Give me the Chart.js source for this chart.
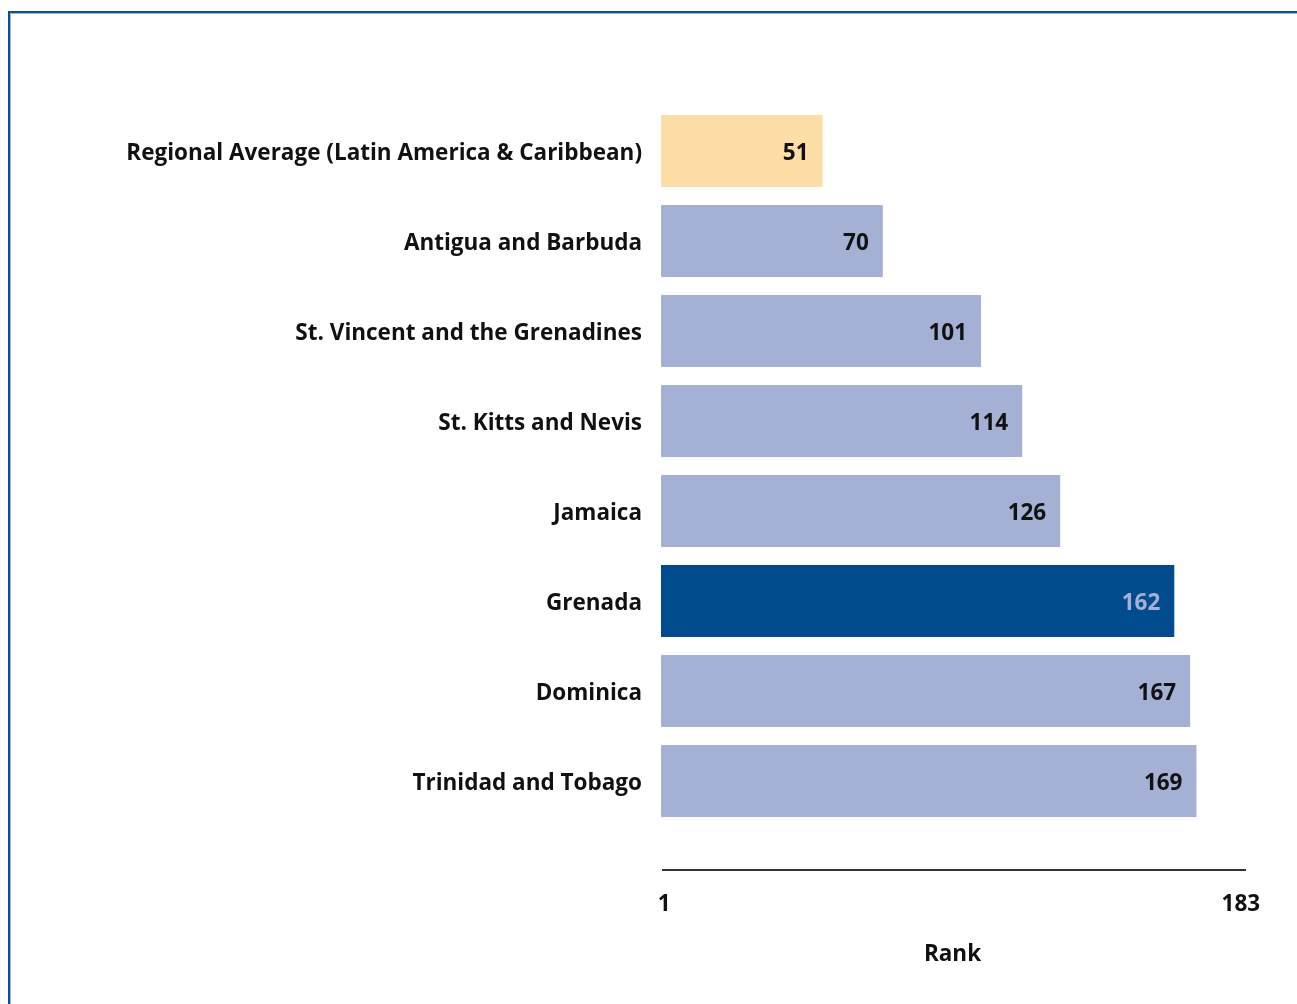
<!DOCTYPE html>
<html>
<head>
<meta charset="utf-8">
<script src="https://cdn.jsdelivr.net/npm/chart.js@4.4.0/dist/chart.umd.min.js"></script>
<style>
  html, body { margin: 0; padding: 0; background: #fff; }
  #wrap { position: relative; width: 1297px; height: 1004px; overflow: hidden; }
  #frame {
    position: absolute; left: 8px; top: 11px; right: -10px; bottom: -10px;
    border-left: 2px solid #0b4f9c; border-top: 2px solid #0b4f9c;
    box-shadow: inset 1px 1px 0 #9bb6dc;
  }
  canvas { position: absolute; left: 0; top: 0; }
</style>
</head>
<body>
<div id="wrap">
  <div id="frame"></div>
  <canvas id="chart" width="1297" height="1004"></canvas>
</div>
<script>
// ===============================
// DATA
// ===============================
const countries = [
  "Regional Average (Latin America & Caribbean)",
  "Antigua and Barbuda",
  "St. Vincent and the Grenadines",
  "St. Kitts and Nevis",
  "Jamaica",
  "Grenada",
  "Dominica",
  "Trinidad and Tobago"
];
const ranks = [51, 70, 101, 114, 126, 162, 167, 169];
const rankTicks = [1, 183];

const barColors = countries.map((c, i) =>
  i === 0 ? "#fddea6" : (c === "Grenada" ? "#004b8d" : "#a5b1d4")
);
const labelColors = countries.map(c => c === "Grenada" ? "#a5b1d4" : "#111111");

const FONT = "'Open Sans', 'DejaVu Sans', sans-serif";
const FSIZE = 22.5;

// ===============================
// PLUGINS
// ===============================
const valueLabels = {
  id: "valueLabels",
  afterDatasetsDraw(chart) {
    const ctx = chart.ctx;
    const meta = chart.getDatasetMeta(0);
    ctx.save();
    ctx.font = "bold " + FSIZE + "px " + FONT;
    ctx.textAlign = "right";
    ctx.textBaseline = "middle";
    meta.data.forEach((bar, i) => {
      ctx.fillStyle = labelColors[i];
      ctx.fillText(String(ranks[i]), bar.x - 14, bar.y + 3);
    });
    ctx.restore();
  }
};

const rankAxisLine = {
  id: "rankAxisLine",
  afterDraw(chart) {
    const {ctx, chartArea} = chart;
    ctx.save();
    ctx.strokeStyle = "#333333";
    ctx.lineWidth = 2;
    ctx.beginPath();
    ctx.moveTo(chartArea.left + 1, chartArea.bottom + 44);
    ctx.lineTo(chartArea.right + 2, chartArea.bottom + 44);
    ctx.stroke();
    ctx.restore();
  }
};

// ===============================
// CHART
// ===============================
new Chart(document.getElementById("chart"), {
  type: "bar",
  data: {
    labels: countries,
    datasets: [{
      data: ranks,
      backgroundColor: barColors,
      borderWidth: 0,
      barPercentage: 0.8,
      categoryPercentage: 1.0
    }]
  },
  options: {
    indexAxis: "y",
    responsive: false,
    animation: false,
    layout: { padding: { top: 106, right: 53, bottom: 35, left: 0 } },
    plugins: {
      legend: { display: false },
      tooltip: { enabled: false }
    },
    scales: {
      y: {
        grid: { display: false, drawTicks: false },
        border: { display: false },
        ticks: {
          padding: 19,
          labelOffset: 3,
          color: "#111111",
          font: { family: FONT, size: FSIZE, weight: "bold" }
        },
        afterFit(scale) { scale.width = 661; }
      },
      x: {
        min: 0,
        max: 184,
        grid: { display: false, drawTicks: false },
        border: { display: false },
        afterBuildTicks(scale) {
          scale.ticks = rankTicks.map(v => ({ value: v }));
        },
        ticks: {
          padding: 65,
          autoSkip: false,
          maxRotation: 0,
          color: "#111111",
          font: { family: FONT, size: FSIZE, weight: "bold" }
        },
        title: {
          display: true,
          text: "Rank",
          color: "#111111",
          padding: { top: 29, bottom: 1 },
          font: { family: FONT, size: FSIZE, weight: "bold" }
        },
        afterFit(scale) {
          scale.height = 143;
          scale.paddingLeft = 0;
          scale.paddingRight = 0;
        }
      }
    }
  },
  plugins: [valueLabels, rankAxisLine]
});
</script>
</body>
</html>
